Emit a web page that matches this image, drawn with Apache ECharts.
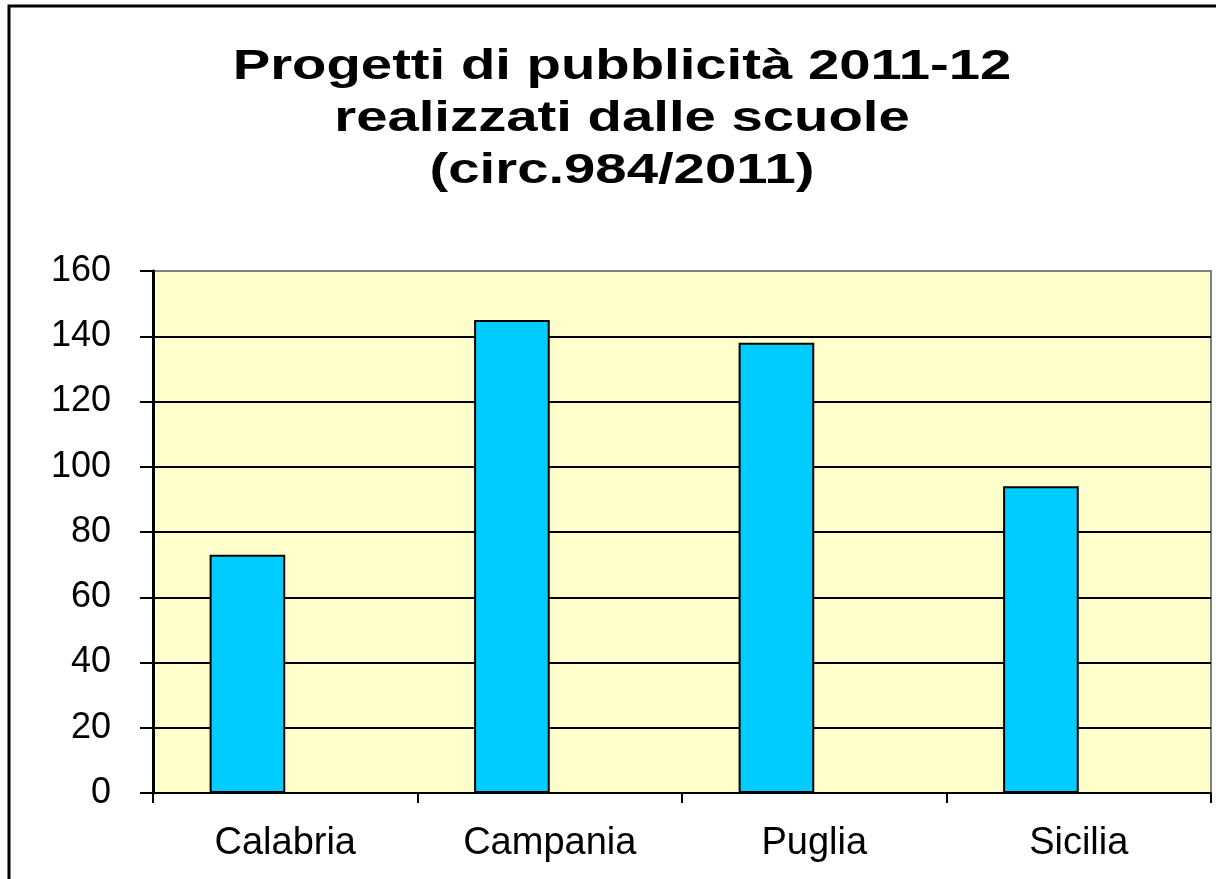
<!DOCTYPE html>
<html>
<head>
<meta charset="utf-8">
<script src="https://cdn.jsdelivr.net/npm/echarts@6/dist/echarts.min.js"></script>
<style>
  html, body { margin: 0; padding: 0; background: #fff; }
  #chart { width: 1216px; height: 879px; }
</style>
</head>
<body>
<div id="chart"></div>
<script>
// dati del grafico
var regioni = ['Calabria', 'Campania', 'Puglia', 'Sicilia'];
var progetti = [73, 145, 138, 94];
var titolo = 'Progetti di pubblicità 2011-12\nrealizzati dalle scuole\n(circ.984/2011)';

var myChart = echarts.init(document.getElementById('chart'));

var option = {
    backgroundColor: '#ffffff',
    animation: false,
    graphic: [
        // bordo esterno
        {
            type: 'rect',
            shape: { x: 9, y: 6, width: 1260, height: 920 },
            style: { fill: 'none', stroke: '#000', lineWidth: 3 },
            silent: true
        },
        // titolo (testo allargato come nell'originale)
        {
            type: 'text',
            x: 622,
            y: 41,
            scaleX: 1.34,
            silent: true,
            style: {
                text: titolo,
                x: 0,
                y: 0,
                align: 'center',
                verticalAlign: 'top',
                fontFamily: 'Liberation Sans, Arial, sans-serif',
                fontWeight: 'bold',
                fontSize: 42,
                lineHeight: 52,
                fill: '#000'
            }
        }
    ],
    grid: {
        left: 153,
        right: 5,
        top: 271,
        bottom: 86,
        show: true,
        backgroundColor: '#FFFFCC',
        borderColor: '#808080',
        borderWidth: 2
    },
    xAxis: {
        type: 'category',
        data: regioni,
        axisLine: { lineStyle: { color: '#000', width: 2 } },
        axisTick: { show: true, length: 10, lineStyle: { color: '#000', width: 2 } },
        axisLabel: {
            fontFamily: 'Liberation Sans, Arial, sans-serif',
            fontSize: 38,
            color: '#000',
            margin: 32
        }
    },
    yAxis: {
        type: 'value',
        min: 0,
        max: 160,
        interval: 20,
        axisLine: { show: true, lineStyle: { color: '#000', width: 3 } },
        axisTick: { show: true, length: 13, lineStyle: { color: '#000', width: 2 } },
        axisLabel: {
            fontFamily: 'Liberation Sans, Arial, sans-serif',
            fontSize: 36,
            color: '#000',
            margin: 42
        },
        splitLine: { showMaxLine: false, lineStyle: { color: '#000', width: 2 } }
    },
    series: [
        {
            name: 'Progetti',
            type: 'bar',
            data: progetti,
            barWidth: '28.6%',
            barGap: '0%',
            itemStyle: {
                color: '#00CCFF',
                borderColor: '#000',
                borderWidth: 2
            }
        },
        {
            // serie vuota: nell'originale le barre sono spostate a sinistra
            name: 'vuota',
            type: 'bar',
            data: [],
            barWidth: '28.6%',
            barGap: '0%'
        }
    ]
};

myChart.setOption(option);
</script>
</body>
</html>
